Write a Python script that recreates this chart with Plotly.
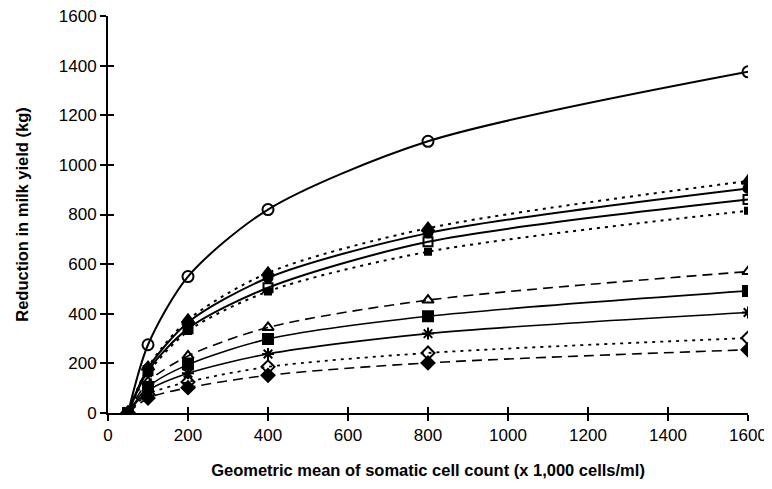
import plotly.graph_objects as go

scc = [50, 100, 200, 400, 800, 1600]

s_open_circle = [0, 275, 550, 820, 1095, 1375]
s_filled_triangle = [0, 185, 375, 565, 745, 935]
s_filled_circle = [0, 180, 365, 545, 725, 905]
s_open_square = [0, 170, 340, 505, 690, 860]
s_small_square = [0, 160, 330, 490, 650, 815]
s_open_triangle = [0, 125, 230, 345, 455, 570]
s_filled_square = [0, 105, 195, 298, 390, 492]
s_asterisk = [0, 90, 160, 238, 320, 405]
s_open_diamond = [0, 75, 125, 186, 242, 302]
s_filled_diamond = [0, 60, 102, 152, 202, 255]

x_ticks = [0, 200, 400, 600, 800, 1000, 1200, 1400, 1600]
y_ticks = [0, 200, 400, 600, 800, 1000, 1200, 1400, 1600]

series = [
    (s_open_circle, "circle-open", 11, "solid", 2),
    (s_filled_triangle, "triangle-up", 11, "3px,5px", 2),
    (s_filled_circle, "circle", 9, "solid", 2),
    (s_open_square, "square-open", 9, "solid", 2),
    (s_small_square, "square", 6, "3px,5px", 2),
    (s_open_triangle, "triangle-up-open", 10, "10px,6px", 1.6),
    (s_filled_square, "square", 10, "solid", 1.6),
    (s_asterisk, "asterisk-open", 10, "solid", 1.6),
    (s_open_diamond, "diamond-open", 10, "3px,5px", 1.8),
    (s_filled_diamond, "diamond", 10, "10px,6px", 1.6),
]

fig = go.Figure()
for ys, sym, size, dash, lw in series:
    fig.add_trace(go.Scatter(
        x=scc, y=ys, mode="lines+markers",
        line=dict(color="black", width=lw, dash=dash, shape="spline", smoothing=0.8),
        marker=dict(symbol=sym, size=size, color="black",
                    line=dict(color="black", width=2)),
        showlegend=False,
    ))

# invisible trace on overlay axes to draw inner half of crossing ticks
fig.add_trace(go.Scatter(x=[0], y=[0], xaxis="x2", yaxis="y2", mode="markers",
                         marker=dict(opacity=0), showlegend=False, hoverinfo="skip"))

font_family = "Liberation Sans, Arial, sans-serif"
fig.update_layout(
    width=764, height=481,
    margin=dict(l=100, r=24, t=8, b=76),
    plot_bgcolor="white", paper_bgcolor="white",
    font=dict(family=font_family, color="black", size=17),
    xaxis=dict(range=[0, 1600], tickvals=x_ticks, ticktext=[str(v) for v in x_ticks],
               showgrid=False, zeroline=False, showline=True, linecolor="black", linewidth=2,
               ticks="outside", ticklen=6, tickwidth=2, tickcolor="black",
               tickfont=dict(size=17), automargin=False, ticklabeloverflow="allow",
               title=dict(text="<b>Geometric mean of somatic cell count (x 1,000 cells/ml)</b>",
                          font=dict(size=16.5), standoff=20)),
    yaxis=dict(range=[0, 1600], tickvals=y_ticks, ticktext=[str(v) for v in y_ticks],
               showgrid=False, zeroline=False, showline=True, linecolor="black", linewidth=2,
               ticks="outside", ticklen=6, tickwidth=2, tickcolor="black",
               tickfont=dict(size=17), automargin=False, ticklabeloverflow="allow",
               title=dict(text="<b>Reduction in milk yield (kg)</b>", font=dict(size=16.5), standoff=26)),
    xaxis2=dict(range=[0, 1600], tickvals=x_ticks, overlaying="x", anchor="y2",
                showticklabels=False, showgrid=False, zeroline=False, showline=False,
                ticks="inside", ticklen=6, tickwidth=2, tickcolor="black"),
    yaxis2=dict(range=[0, 1600], tickvals=y_ticks, overlaying="y", anchor="x2", side="left",
                showticklabels=False, showgrid=False, zeroline=False, showline=False,
                ticks="inside", ticklen=6, tickwidth=2, tickcolor="black"),
)

fig.write_html("out.html")
